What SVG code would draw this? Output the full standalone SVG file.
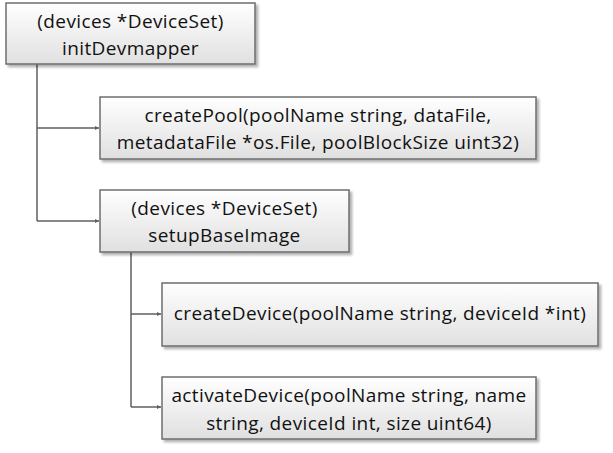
<svg xmlns="http://www.w3.org/2000/svg" width="613" height="453" viewBox="0 0 613 453">
<defs>
<linearGradient id="g" x1="0" y1="0" x2="0" y2="1">
<stop offset="0" stop-color="#ffffff"/>
<stop offset="1" stop-color="#e0e0e0"/>
</linearGradient>
<filter id="sh" x="-5%" y="-10%" width="115%" height="130%">
<feDropShadow dx="2.5" dy="2.5" stdDeviation="1.2" flood-color="#000" flood-opacity="0.3"/>
</filter>
<marker id="ar" viewBox="0 0 6 6" refX="6" refY="3" markerWidth="4" markerHeight="4" orient="auto" markerUnits="userSpaceOnUse">
<path d="M0,0 L6,3 L0,6 z" fill="#5f5f5f"/>
</marker>
</defs>
<style>
.box{fill:url(#g);stroke:#6d6d6d;stroke-width:1.5;filter:url(#sh)}
.t{font-family:"Open Sans","Noto Sans","DejaVu Sans",sans-serif;font-size:19px;letter-spacing:0.4px;fill:#111;text-anchor:middle}
.c{fill:none;stroke:#5f5f5f;stroke-width:1.5}
</style>
<g id="connectors">
<path class="c" d="M37,64 V221"/>
<path class="c" d="M37,128 H99" marker-end="url(#ar)"/>
<path class="c" d="M37,221 H99" marker-end="url(#ar)"/>
<path class="c" d="M131,252 V407"/>
<path class="c" d="M131,314 H161" marker-end="url(#ar)"/>
<path class="c" d="M131,407 H161" marker-end="url(#ar)"/>
</g>
<g id="initDevmapper">
<rect class="box" x="6" y="3" width="249" height="61"/>
<text class="t" x="130.5" y="28">(devices *DeviceSet)</text>
<text class="t" x="130.5" y="55">initDevmapper</text>
</g>
<g id="createPool">
<rect class="box" x="100" y="97" width="436" height="62"/>
<text class="t" x="318" y="122">createPool(poolName string, dataFile,</text>
<text class="t" x="318" y="149">metadataFile *os.File, poolBlockSize uint32)</text>
</g>
<g id="setupBaseImage">
<rect class="box" x="100" y="190" width="249" height="62"/>
<text class="t" x="224.5" y="215">(devices *DeviceSet)</text>
<text class="t" x="224.5" y="242">setupBaseImage</text>
</g>
<g id="createDevice">
<rect class="box" x="162" y="283" width="436" height="63"/>
<text class="t" x="380" y="320">createDevice(poolName string, deviceId *int)</text>
</g>
<g id="activateDevice">
<rect class="box" x="162" y="377" width="374" height="62"/>
<text class="t" x="349" y="402">activateDevice(poolName string, name</text>
<text class="t" x="349" y="430">string, deviceId int, size uint64)</text>
</g>
</svg>
